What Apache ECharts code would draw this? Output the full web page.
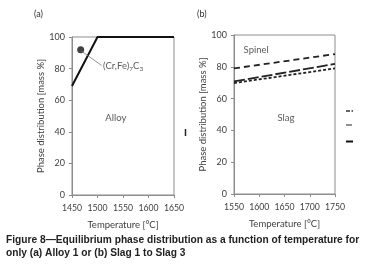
<!DOCTYPE html>
<html>
<head>
<meta charset="utf-8">
<script src="https://cdn.jsdelivr.net/npm/echarts@6/dist/echarts.min.js"></script>
<style>
  html, body { margin: 0; padding: 0; background: #fff; }
  #chart { width: 372px; height: 272px; }
</style>
</head>
<body>
<div id="chart"></div>
<script>
// panel (a): alloy 1
const alloyTicks = [1450, 1500, 1550, 1600, 1650];
const alloyBoundary = [[1450, 69], [1500, 100], [1650, 100]];
const carbidePoint = [[1467, 92]];
const carbideLeader = [[1468, 91.2], [1508, 82]];

// panel (b): slag 1-3
const slagTicks = [1550, 1600, 1650, 1700, 1750];
const slagTemps = [1550, 1750];
const slag1 = [79, 88];
const slag2 = [70.8, 81.8];
const slag3 = [69.8, 79];

const yTicks = [0, 20, 40, 60, 80, 100];

const chart = echarts.init(document.getElementById('chart'));
const font = 'Lato';
const txt = '#404040';
const axisGray = '#8c8c8c';

function xAx(idx, ticks) {
  return {
    type: 'value', gridIndex: idx,
    min: ticks[0], max: ticks[ticks.length - 1], interval: 50,
    name: 'Temperature [°C]', nameLocation: 'middle', nameGap: 25,
    nameTextStyle: {fontFamily: font, fontSize: 9.5, color: txt},
    axisLine: {show: true, lineStyle: {color: axisGray}},
    axisTick: {show: true, length: 3, lineStyle: {color: axisGray}},
    axisLabel: {fontFamily: font, fontSize: 8.7, color: txt, margin: 9, formatter: v => String(v)},
    splitLine: {show: false}
  };
}
function yAx(idx) {
  return {
    type: 'value', gridIndex: idx,
    min: yTicks[0], max: yTicks[yTicks.length - 1], interval: 20,
    name: 'Phase distribution [mass %]', nameLocation: 'middle', nameGap: 25,
    nameTextStyle: {fontFamily: font, fontSize: 9.5, color: txt},
    axisLine: {show: true, lineStyle: {color: axisGray}},
    axisTick: {show: true, length: 3, lineStyle: {color: axisGray}},
    axisLabel: {fontFamily: font, fontSize: 9, color: txt, margin: 7},
    splitLine: {show: false}
  };
}

function textPoint(idx, pos, text, align) {
  return {
    type: 'scatter', xAxisIndex: idx, yAxisIndex: idx,
    data: [pos], symbolSize: 0, silent: true,
    label: {show: true, position: 'inside', formatter: text, align: align || 'center',
      fontFamily: font, fontSize: 9.5, color: '#303030',
      rich: {s: {fontFamily: font, fontSize: 6.5, color: '#303030', verticalAlign: 'bottom', padding: [6, 0, 0, 0]}}}
  };
}

function slagLine(data, dash) {
  return {
    type: 'line', xAxisIndex: 1, yAxisIndex: 1, symbol: 'none',
    data: slagTemps.map((t, i) => [t, data[i]]),
    lineStyle: {color: '#222', width: 1.8, type: dash}
  };
}

chart.setOption({
  animation: false,
  grid: [
    {left: 72, top: 37, width: 102, height: 158, show: true, borderColor: axisGray, borderWidth: 1},
    {left: 234, top: 35, width: 101, height: 159, show: true, borderColor: axisGray, borderWidth: 1}
  ],
  xAxis: [xAx(0, alloyTicks), xAx(1, slagTicks)],
  yAxis: [yAx(0), yAx(1)],
  series: [
    {
      type: 'line', xAxisIndex: 0, yAxisIndex: 0, symbol: 'none',
      data: alloyBoundary, lineStyle: {color: '#111', width: 2}
    },
    {
      type: 'line', xAxisIndex: 0, yAxisIndex: 0, symbol: 'none',
      data: carbideLeader, lineStyle: {color: '#777', width: 0.8}
    },
    {
      type: 'scatter', xAxisIndex: 0, yAxisIndex: 0,
      data: carbidePoint, symbolSize: 7, itemStyle: {color: '#111'}
    },
    textPoint(0, [1511, 81.5], '(Cr,Fe){s|7}C{s|3}', 'left'),
    textPoint(0, [1536, 49], 'Alloy'),
    slagLine(slag1, [6, 4]),
    slagLine(slag2, [11, 3]),
    slagLine(slag3, [3, 2]),
    textPoint(1, [1594, 90.5], 'Spinel'),
    textPoint(1, [1653, 48], 'Slag')
  ],
  graphic: [
    {type: 'text', left: 34, top: 10, style: {text: '(a)', fontFamily: font, fontSize: 9, fill: '#303030'}},
    {type: 'text', left: 197, top: 10, style: {text: '(b)', fontFamily: font, fontSize: 9, fill: '#303030'}},
    // clipped legend keys
    {type: 'line', shape: {x1: 185.5, y1: 129, x2: 185.5, y2: 136}, style: {stroke: '#222', lineWidth: 1.5}},
    {type: 'line', shape: {x1: 346, y1: 111, x2: 353, y2: 111}, style: {stroke: '#333', lineWidth: 1.3, lineDash: [4, 1.5]}},
    {type: 'line', shape: {x1: 346, y1: 125, x2: 352, y2: 125}, style: {stroke: '#555', lineWidth: 1.3}},
    {type: 'line', shape: {x1: 346, y1: 141.5, x2: 353, y2: 141.5}, style: {stroke: '#111', lineWidth: 2}},
    {type: 'text', left: 6, top: 233.5, style: {
      text: 'Figure 8\u2014Equilibrium phase distribution as a function of temperature for\nonly (a) Alloy 1 or (b) Slag 1 to Slag 3',
      fontFamily: 'Liberation Sans', fontWeight: 'bold', fontSize: 10.2, lineHeight: 13, fill: '#222'}}
  ]
});
</script>
</body>
</html>
